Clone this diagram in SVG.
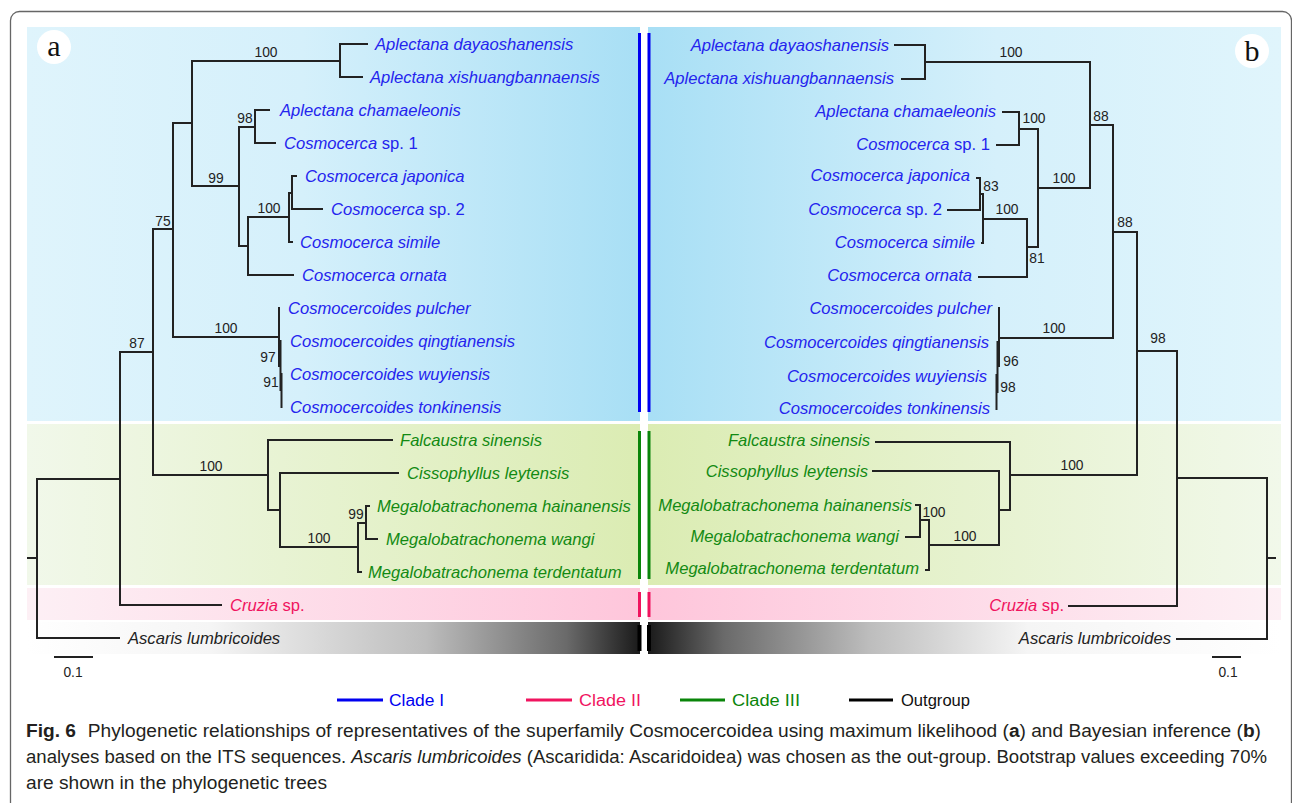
<svg xmlns="http://www.w3.org/2000/svg" width="1292" height="803" viewBox="0 0 1292 803">
<defs>
<linearGradient id="gBL" x1="0" x2="1" y1="0" y2="0"><stop offset="0" stop-color="#dff4fc"/><stop offset="0.45" stop-color="#d5f0fb"/><stop offset="1" stop-color="#a8dff5"/></linearGradient>
<linearGradient id="gBR" x1="0" x2="1" y1="0" y2="0"><stop offset="0" stop-color="#a8dff5"/><stop offset="0.55" stop-color="#d5f0fb"/><stop offset="1" stop-color="#e0f5fc"/></linearGradient>
<linearGradient id="gGL" x1="0" x2="1" y1="0" y2="0"><stop offset="0" stop-color="#f1f8ea"/><stop offset="1" stop-color="#dbecb3"/></linearGradient>
<linearGradient id="gGR" x1="0" x2="1" y1="0" y2="0"><stop offset="0" stop-color="#dbecb3"/><stop offset="1" stop-color="#f1f8ea"/></linearGradient>
<linearGradient id="gPL" x1="0" x2="1" y1="0" y2="0"><stop offset="0" stop-color="#fdf0f5"/><stop offset="1" stop-color="#fec6db"/></linearGradient>
<linearGradient id="gPR" x1="0" x2="1" y1="0" y2="0"><stop offset="0" stop-color="#fec6db"/><stop offset="1" stop-color="#fdf0f5"/></linearGradient>
<linearGradient id="gKL" x1="0" x2="1" y1="0" y2="0"><stop offset="0" stop-color="#ffffff"/><stop offset="0.3" stop-color="#f5f5f5"/><stop offset="0.65" stop-color="#bdbdbd"/><stop offset="0.88" stop-color="#6a6a6a"/><stop offset="1" stop-color="#1a1a1a"/></linearGradient>
<linearGradient id="gKR" x1="0" x2="1" y1="0" y2="0"><stop offset="0" stop-color="#1a1a1a"/><stop offset="0.12" stop-color="#6a6a6a"/><stop offset="0.35" stop-color="#bdbdbd"/><stop offset="0.6" stop-color="#f5f5f5"/><stop offset="1" stop-color="#ffffff"/></linearGradient>
<style>
.br{fill:none;stroke:#222;stroke-width:2;stroke-linecap:square}
.tx{font-family:"Liberation Sans",Arial,sans-serif;font-size:16.6px;font-style:italic}
.up{font-style:normal}
.c1{fill:#2424ee}
.c2{fill:#f0145f}
.c3{fill:#138a13}
.c0{fill:#222}
.bs{font-family:"Liberation Sans",Arial,sans-serif;font-size:13.8px;fill:#222;text-anchor:middle}
.r{text-anchor:end}
.lg{font-family:"Liberation Sans",Arial,sans-serif;font-size:16px}
.cap{font-family:"Liberation Sans",Arial,sans-serif;font-size:17.5px;fill:#231f20}
.bar{stroke-width:3;fill:none}
</style>
</defs>
<rect x="10.5" y="11.5" width="1281" height="800" rx="9" fill="#fff" stroke="#666" stroke-width="1.3"/>
<g id="bands">
<rect x="27" y="27" width="613" height="394" fill="url(#gBL)"/>
<rect x="648" y="27" width="633" height="394" fill="url(#gBR)"/>
<rect x="27" y="424" width="613" height="161" fill="url(#gGL)"/>
<rect x="648" y="424" width="633" height="161" fill="url(#gGR)"/>
<rect x="27" y="588" width="613" height="32" fill="url(#gPL)"/>
<rect x="648" y="588" width="633" height="32" fill="url(#gPR)"/>
<rect x="27" y="622" width="613" height="32" fill="url(#gKL)"/>
<rect x="648" y="622" width="633" height="32" fill="url(#gKR)"/>
</g>
<g id="clade-bars">
<line class="bar" x1="639.5" y1="33" x2="639.5" y2="412" stroke="#0000f0"/>
<line class="bar" x1="649" y1="33" x2="649" y2="412" stroke="#0000f0"/>
<line class="bar" x1="639.5" y1="431" x2="639.5" y2="579" stroke="#0a850a"/>
<line class="bar" x1="649" y1="431" x2="649" y2="579" stroke="#0a850a"/>
<line class="bar" x1="639.5" y1="592" x2="639.5" y2="617" stroke="#f0145f"/>
<line class="bar" x1="649" y1="592" x2="649" y2="617" stroke="#f0145f"/>
<line x1="639.5" y1="625" x2="639.5" y2="651" stroke="#000" stroke-width="4"/>
<line x1="649" y1="625" x2="649" y2="651" stroke="#000" stroke-width="4"/>
</g>
<g id="panel-labels">
<circle cx="54" cy="47" r="17" fill="#fff"/>
<text x="54" y="56" font-family="Liberation Serif,serif" font-size="30" text-anchor="middle" fill="#111">a</text>
<circle cx="1252" cy="51" r="17" fill="#fff"/>
<text x="1252" y="61" font-family="Liberation Serif,serif" font-size="30" text-anchor="middle" fill="#111">b</text>
</g>
<g id="connectors">
<path class="br" d="M340 44H367M340 77H362M340 44V77M192 61H340M192 61V186M173 123H192M192 186H239M239 127V246M239 127H255M255 110V143M255 110H269M255 143H275M239 246H248M248 217V275M248 217H289M248 275H293M289 193V242M289 193H292M292 176V209M292 176H296M292 209H322M289 242H292M173 123V337M173 337H279M279 308V366M280.5 341V390M281.5 374V407M153 229V475M153 229H173M153 475H268M268 440V510M268 440H392M268 510H280M280 473V547M280 473H398M280 547H358M358 523V572M358 572H361M358 523H366M366 506V539M366 506H369M366 539H377M120 352H153M120 352V605M120 605H221M37 479H120M37 479V638M37 638H119M28 558H37"/>
<path class="br" d="M895 45H925M902 79H925M925 45V79M925 62H1090M1003 112H1019M997 145H1019M1019 112V145M1019 129H1038M977 178H980M948 210H980M980 178V210M980 194H983M982 243H983M983 194V243M983 219H1027M979 277H1027M1027 219V277M1027 247H1038M1038 129V247M1038 188H1090M1090 62V188M1090 125H1113M999 308V366M997.5 342V392M996.5 375V409M999 338H1113M1113 125V338M1113 232H1137M1137 232V475M1137 351H1177M876 442H1010M873 471H999M1010 442V510M999 510H1010M999 471V545M929 545H999M929 520V570M920 520H929M920 505V537M916 505H920M906 537H920M926 570H929M1010 475H1137M1177 351V606M1069 606H1177M1177 478H1267M1267 478V639M1177 639H1267M1267 558H1275"/>
<path class="br" d="M55 657H92M1213 657H1240"/>
</g>
<g id="bootstrap-a">
<text class="bs" x="266" y="57">100</text>
<text class="bs" x="245" y="123">98</text>
<text class="bs" x="216" y="183">99</text>
<text class="bs" x="269" y="213">100</text>
<text class="bs" x="163" y="226">75</text>
<text class="bs" x="226" y="333">100</text>
<text class="bs" x="268" y="362">97</text>
<text class="bs" x="271" y="387">91</text>
<text class="bs" x="137" y="348">87</text>
<text class="bs" x="211" y="471">100</text>
<text class="bs" x="356" y="519">99</text>
<text class="bs" x="319" y="543">100</text>
<text class="bs" x="73" y="677">0.1</text>
</g>
<g id="bootstrap-b">
<text class="bs" x="1011" y="57">100</text>
<text class="bs" x="1034" y="123">100</text>
<text class="bs" x="1101" y="121">88</text>
<text class="bs" x="1064" y="183">100</text>
<text class="bs" x="991" y="191">83</text>
<text class="bs" x="1007" y="214">100</text>
<text class="bs" x="1037" y="263">81</text>
<text class="bs" x="1125" y="227">88</text>
<text class="bs" x="1054" y="333">100</text>
<text class="bs" x="1011" y="366">96</text>
<text class="bs" x="1008" y="392">98</text>
<text class="bs" x="1158" y="343">98</text>
<text class="bs" x="1072" y="470">100</text>
<text class="bs" x="934" y="517">100</text>
<text class="bs" x="965" y="541">100</text>
<text class="bs" x="1228" y="677">0.1</text>
</g>
<g id="taxa-a">
<text class="tx c1" x="375" y="50">Aplectana dayaoshanensis</text>
<text class="tx c1" x="370" y="83">Aplectana xishuangbannaensis</text>
<text class="tx c1" x="280" y="116">Aplectana chamaeleonis</text>
<text class="tx c1" x="284" y="149">Cosmocerca<tspan class="up"> sp. 1</tspan></text>
<text class="tx c1" x="305" y="182">Cosmocerca japonica</text>
<text class="tx c1" x="331" y="215">Cosmocerca<tspan class="up"> sp. 2</tspan></text>
<text class="tx c1" x="300" y="248">Cosmocerca simile</text>
<text class="tx c1" x="302" y="281">Cosmocerca ornata</text>
<text class="tx c1" x="288" y="314">Cosmocercoides pulcher</text>
<text class="tx c1" x="290" y="347">Cosmocercoides qingtianensis</text>
<text class="tx c1" x="290" y="380">Cosmocercoides wuyiensis</text>
<text class="tx c1" x="290" y="413">Cosmocercoides tonkinensis</text>
<text class="tx c3" x="400" y="446">Falcaustra sinensis</text>
<text class="tx c3" x="407" y="479">Cissophyllus leytensis</text>
<text class="tx c3" x="377" y="512">Megalobatrachonema hainanensis</text>
<text class="tx c3" x="386" y="545">Megalobatrachonema wangi</text>
<text class="tx c3" x="368" y="578">Megalobatrachonema terdentatum</text>
<text class="tx c2" x="230" y="611">Cruzia<tspan class="up"> sp.</tspan></text>
<text class="tx c0" x="128" y="644">Ascaris lumbricoides</text>
</g>
<g id="taxa-b">
<text class="tx c1 r" x="889" y="51">Aplectana dayaoshanensis</text>
<text class="tx c1 r" x="894" y="84">Aplectana xishuangbannaensis</text>
<text class="tx c1 r" x="996" y="117">Aplectana chamaeleonis</text>
<text class="tx c1 r" x="990" y="150">Cosmocerca<tspan class="up"> sp. 1</tspan></text>
<text class="tx c1 r" x="970" y="181">Cosmocerca japonica</text>
<text class="tx c1 r" x="942" y="215">Cosmocerca<tspan class="up"> sp. 2</tspan></text>
<text class="tx c1 r" x="975" y="248">Cosmocerca simile</text>
<text class="tx c1 r" x="972" y="281">Cosmocerca ornata</text>
<text class="tx c1 r" x="992" y="314">Cosmocercoides pulcher</text>
<text class="tx c1 r" x="989" y="348">Cosmocercoides qingtianensis</text>
<text class="tx c1 r" x="987" y="382">Cosmocercoides wuyiensis</text>
<text class="tx c1 r" x="990" y="414">Cosmocercoides tonkinensis</text>
<text class="tx c3 r" x="870" y="446">Falcaustra sinensis</text>
<text class="tx c3 r" x="868" y="477">Cissophyllus leytensis</text>
<text class="tx c3 r" x="912" y="511">Megalobatrachonema hainanensis</text>
<text class="tx c3 r" x="899" y="542">Megalobatrachonema wangi</text>
<text class="tx c3 r" x="919" y="574">Megalobatrachonema terdentatum</text>
<text class="tx c2 r" x="1064" y="611">Cruzia<tspan class="up"> sp.</tspan></text>
<text class="tx c0 r" x="1171" y="644">Ascaris lumbricoides</text>
</g>
<g id="legend">
<line x1="337" y1="700" x2="383" y2="700" stroke="#0000f0" stroke-width="3"/>
<text class="lg" x="389" y="706" fill="#0000f0" textLength="55" lengthAdjust="spacingAndGlyphs">Clade I</text>
<line x1="526" y1="700" x2="572" y2="700" stroke="#f0145f" stroke-width="3"/>
<text class="lg" x="579" y="706" fill="#f0145f" textLength="62" lengthAdjust="spacingAndGlyphs">Clade II</text>
<line x1="680" y1="700" x2="725" y2="700" stroke="#0a850a" stroke-width="3"/>
<text class="lg" x="732" y="706" fill="#0a850a" textLength="68" lengthAdjust="spacingAndGlyphs">Clade III</text>
<line x1="849" y1="700" x2="893" y2="700" stroke="#000" stroke-width="3"/>
<text class="lg" x="901" y="706" fill="#111" textLength="69" lengthAdjust="spacingAndGlyphs">Outgroup</text>
</g>
<g id="caption">
<text class="cap" x="26" y="737" textLength="1235" lengthAdjust="spacingAndGlyphs"><tspan font-weight="bold">Fig. 6</tspan><tspan dx="6"> Phylogenetic relationships of representatives of the superfamily Cosmocercoidea using maximum likelihood (</tspan><tspan font-weight="bold">a</tspan>) and Bayesian inference (<tspan font-weight="bold">b</tspan>)</text>
<text class="cap" x="26" y="763" textLength="1241" lengthAdjust="spacingAndGlyphs">analyses based on the ITS sequences. <tspan font-style="italic">Ascaris lumbricoides</tspan> (Ascaridida: Ascaridoidea) was chosen as the out-group. Bootstrap values exceeding 70%</text>
<text class="cap" x="26" y="789" textLength="301" lengthAdjust="spacingAndGlyphs">are shown in the phylogenetic trees</text>
</g>
</svg>
